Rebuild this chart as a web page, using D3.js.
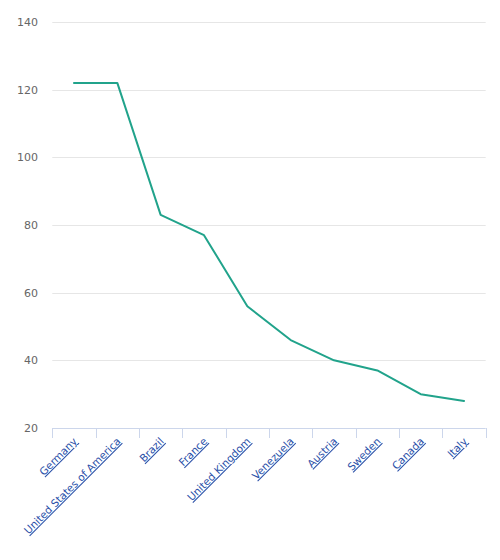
<!DOCTYPE html>
<html><head><meta charset="utf-8">
<script src="https://cdn.jsdelivr.net/npm/d3@7"></script>
<style>body{margin:0;background:#fff}svg{display:block}</style>
</head><body><div id="chart"></div>
<script>
const categories = ["Germany","United States of America","Brazil","France","United Kingdom","Venezuela","Austria","Sweden","Canada","Italy"];
const values = [122,122,83,77,56,46,40,37,30,28];
const yTicks = [20,40,60,80,100,120,140];

(function(){
const W=500,H=560;
const svg=d3.select("#chart").append("svg").attr("width",W).attr("height",H);
const pL=52.3,pR=485.7,pT=22,pB=428;
const x=d3.scaleBand().domain(categories).range([pL,pR]);
const y=d3.scaleLinear().domain([20,140]).range([pB,pT]);
const font='"DejaVu Sans", sans-serif';

// grid
svg.append("g").selectAll("line").data(yTicks.filter(d=>d>20)).join("line")
 .attr("x1",pL).attr("x2",pR).attr("y1",d=>Math.round(y(d))+0.5).attr("y2",d=>Math.round(y(d))+0.5)
 .attr("stroke","#e6e6e6").attr("stroke-width",1);

// y labels
svg.append("g").selectAll("text").data(yTicks).join("text")
 .attr("x",38).attr("y",d=>y(d)+4).attr("text-anchor","end")
 .attr("font-family",font).attr("font-size",11).attr("fill","#666").text(d=>d);

// x axis
const xa=svg.append("g");
xa.append("line").attr("x1",pL).attr("x2",pR).attr("y1",pB+0.5).attr("y2",pB+0.5).attr("stroke","#ccd6eb");
const edges=categories.map(c=>x(c)).concat([x.range()[1]]);
xa.selectAll("line.t").data(edges).join("line").attr("class","t")
 .attr("x1",d=>Math.round(d)+0.5).attr("x2",d=>Math.round(d)+0.5).attr("y1",pB).attr("y2",pB+10).attr("stroke","#ccd6eb");
xa.selectAll("text").data(categories).join("text")
 .attr("transform",c=>`translate(${x(c)+x.bandwidth()/2+4},${pB+14}) rotate(-45)`)
 .attr("text-anchor","end").attr("font-family",font).attr("font-size",10.5)
 .attr("fill","#2a4fa8").attr("text-decoration","underline").text(c=>c);

// line
const line=d3.line().x((d,i)=>x(categories[i])+x.bandwidth()/2).y(d=>y(d));
svg.append("path").datum(values).attr("d",line).attr("fill","none")
 .attr("stroke","#21a38b").attr("stroke-width",2).attr("stroke-linejoin","round").attr("stroke-linecap","round");
})();
</script></body></html>
